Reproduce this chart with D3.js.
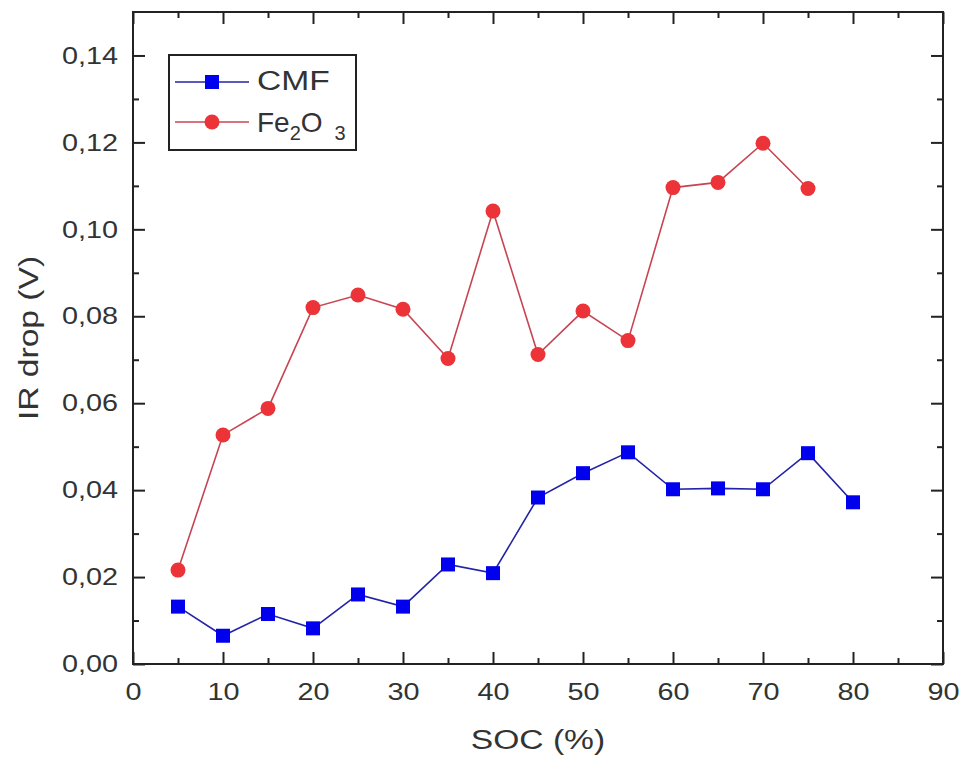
<!DOCTYPE html>
<html>
<head>
<meta charset="utf-8">
<script src="https://cdn.jsdelivr.net/npm/d3@7"></script>
<style>
  body { margin: 0; background: #fff; }
  svg { display: block; }
  text { font-family: "Liberation Sans", Arial, sans-serif; fill: #333; }
</style>
</head>
<body>
<svg width="963" height="762"></svg>
<script>
(function (d3) {
  'use strict';

  // SOC values (%) and IR drop (V)
  const socCMF = [5, 10, 15, 20, 25, 30, 35, 40, 45, 50, 55, 60, 65, 70, 75, 80];
  const irCMF = [0.0132, 0.0065, 0.0115, 0.0082, 0.0160, 0.0132, 0.0229, 0.0209,
                 0.0383, 0.0439, 0.0487, 0.0402, 0.0404, 0.0402, 0.0485, 0.0372];
  const socFe = [5, 10, 15, 20, 25, 30, 35, 40, 45, 50, 55, 60, 65, 70, 75];
  const irFe = [0.0216, 0.0527, 0.0588, 0.0820, 0.0849, 0.0816, 0.0703, 0.1042,
                0.0712, 0.0812, 0.0744, 0.1096, 0.1108, 0.1198, 0.1094];

  const xMajor = [0, 10, 20, 30, 40, 50, 60, 70, 80, 90];
  const xMinor = [5, 15, 25, 35, 45, 55, 65, 75, 85];
  const yMajor = [0, 0.02, 0.04, 0.06, 0.08, 0.10, 0.12, 0.14];
  const yMinor = [0.01, 0.03, 0.05, 0.07, 0.09, 0.11, 0.13];

  const xTitle = 'SOC (%)';
  const yTitle = 'IR drop (V)';

  const svg = d3.select('svg');
  const stretch = 1.2; // the original text is a bit wide

  const margin = { top: 12, right: 20, bottom: 98, left: 133 };
  const width = +svg.attr('width');
  const height = +svg.attr('height');
  const innerWidth = width - margin.left - margin.right;
  const innerHeight = height - margin.top - margin.bottom;

  const xScale = d3.scaleLinear().domain([0, 90]).range([0, innerWidth]);
  const yScale = d3.scaleLinear().domain([0, 0.15]).range([innerHeight, 0]);

  const comma = d3.formatLocale({ decimal: ',', thousands: '.', grouping: [3], currency: ['', ''] });
  const yFmt = comma.format('.2f');

  const g = svg.append('g')
    .attr('transform', `translate(${margin.left},${margin.top})`);

  const styleAxis = (sel, fontSize) => {
    sel.select('.domain').remove();
    sel.selectAll('.tick line').attr('stroke', '#222').attr('stroke-width', 2);
    sel.selectAll('.tick text')
      .attr('font-size', fontSize)
      .attr('font-family', '"Liberation Sans", Arial, sans-serif')
      .attr('fill', '#333');
  };

  // bottom axis
  const xAxisG = g.append('g')
    .attr('transform', `translate(0,${innerHeight})`)
    .call(d3.axisBottom(xScale).tickValues(xMajor).tickSize(-12).tickPadding(19).tickFormat(d3.format('d')));
  styleAxis(xAxisG, 24);
  xAxisG.selectAll('.tick text').attr('transform', `scale(${stretch},1)`);
  g.append('g')
    .attr('transform', `translate(0,${innerHeight})`)
    .call(d3.axisBottom(xScale).tickValues(xMinor).tickSize(-6).tickFormat(''))
    .call(s => styleAxis(s, 0));

  // top mirror ticks
  g.append('g')
    .call(d3.axisTop(xScale).tickValues(xMajor).tickSize(-12).tickFormat(''))
    .call(s => styleAxis(s, 0));
  g.append('g')
    .call(d3.axisTop(xScale).tickValues(xMinor).tickSize(-6).tickFormat(''))
    .call(s => styleAxis(s, 0));

  // left axis
  const yAxisG = g.append('g')
    .call(d3.axisLeft(yScale).tickValues(yMajor).tickSize(-12).tickPadding(15).tickFormat(yFmt));
  styleAxis(yAxisG, 24);
  yAxisG.selectAll('.tick text')
    .attr('x', -15 / stretch)
    .attr('transform', `scale(${stretch},1)`);
  g.append('g')
    .call(d3.axisLeft(yScale).tickValues(yMinor).tickSize(-6).tickFormat(''))
    .call(s => styleAxis(s, 0));

  // right mirror ticks
  g.append('g')
    .attr('transform', `translate(${innerWidth},0)`)
    .call(d3.axisRight(yScale).tickValues(yMajor).tickSize(-12).tickFormat(''))
    .call(s => styleAxis(s, 0));
  g.append('g')
    .attr('transform', `translate(${innerWidth},0)`)
    .call(d3.axisRight(yScale).tickValues(yMinor).tickSize(-6).tickFormat(''))
    .call(s => styleAxis(s, 0));

  // frame
  g.append('rect')
    .attr('width', innerWidth)
    .attr('height', innerHeight)
    .attr('fill', 'none')
    .attr('stroke', '#222')
    .attr('stroke-width', 2);

  // axis titles
  g.append('text')
    .attr('transform', `translate(${innerWidth / 2},${innerHeight + 85}) scale(${stretch},1)`)
    .attr('text-anchor', 'middle')
    .attr('font-size', 28)
    .text(xTitle);

  svg.append('text')
    .attr('transform', `translate(38,${margin.top + innerHeight / 2}) rotate(-90) scale(${stretch},1)`)
    .attr('text-anchor', 'middle')
    .attr('font-size', 28)
    .text(yTitle);

  const line = d3.line()
    .x(d => xScale(d[0]))
    .y(d => yScale(d[1]));

  const cmfPts = socCMF.map((s, i) => [s, irCMF[i]]);
  const fePts = socFe.map((s, i) => [s, irFe[i]]);

  const blueLine = '#2323a8';
  const blueMark = '#0000ee';
  const redLine = '#c84452';
  const redMark = '#ec3338';
  const sq = 14;

  g.append('path').datum(fePts)
    .attr('d', line).attr('fill', 'none')
    .attr('stroke', redLine).attr('stroke-width', 1.6);
  g.selectAll('.fe').data(fePts).enter().append('circle')
    .attr('class', 'fe')
    .attr('cx', d => xScale(d[0]))
    .attr('cy', d => yScale(d[1]))
    .attr('r', 7.5)
    .attr('fill', redMark);

  g.append('path').datum(cmfPts)
    .attr('d', line).attr('fill', 'none')
    .attr('stroke', blueLine).attr('stroke-width', 1.6);
  g.selectAll('.cmf').data(cmfPts).enter().append('rect')
    .attr('class', 'cmf')
    .attr('x', d => xScale(d[0]) - sq / 2)
    .attr('y', d => yScale(d[1]) - sq / 2)
    .attr('width', sq)
    .attr('height', sq)
    .attr('fill', blueMark);

  // legend
  const legend = svg.append('g').attr('transform', 'translate(169,55)');
  legend.append('rect')
    .attr('width', 187).attr('height', 95)
    .attr('fill', '#fff').attr('stroke', '#222').attr('stroke-width', 2);

  const row1 = legend.append('g').attr('transform', 'translate(0,27)');
  row1.append('line').attr('x1', 6).attr('x2', 80).attr('stroke', blueLine).attr('stroke-width', 1.6);
  row1.append('rect').attr('x', 43 - sq / 2).attr('y', -sq / 2).attr('width', sq).attr('height', sq).attr('fill', blueMark);
  row1.append('text')
    .attr('transform', `translate(88,8) scale(${stretch},1)`)
    .attr('font-size', 28)
    .text('CMF');

  const row2 = legend.append('g').attr('transform', 'translate(0,67)');
  row2.append('line').attr('x1', 6).attr('x2', 80).attr('stroke', redLine).attr('stroke-width', 1.6);
  row2.append('circle').attr('cx', 43).attr('r', 7.5).attr('fill', redMark);
  const feText = row2.append('text')
    .attr('transform', 'translate(88,10)')
    .attr('font-size', 28);
  feText.append('tspan').text('Fe');
  feText.append('tspan').attr('font-size', 20).attr('dy', 8).text('2');
  feText.append('tspan').attr('dy', -8).text('O');
  feText.append('tspan').attr('font-size', 20).attr('dy', 8).attr('dx', 12).text('3');

}(d3));
</script>
</body>
</html>
